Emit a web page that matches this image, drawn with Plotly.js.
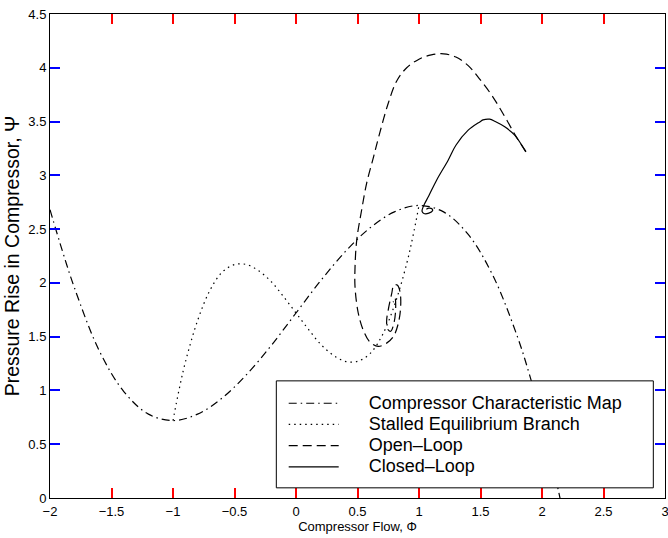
<!DOCTYPE html>
<html>
<head>
<meta charset="utf-8">
<script src="https://cdn.plot.ly/plotly-3.0.1.min.js"></script>
<style>html,body{margin:0;padding:0;background:#fff;}#chart{width:668px;height:538px;}</style>
</head>
<body>
<div id="chart"></div>
<script>
// Compressor characteristic map (dash-dot)
const mapX = [-2.0, -1.9, -1.8, -1.6, -1.4, -1.2, -1.0, -0.8, -0.6, -0.4, -0.2, 0.0, 0.2, 0.4, 0.6, 0.8, 1.0, 1.2, 1.4, 1.6, 1.8, 1.9, 2.0, 2.1, 2.15];
const mapY = [2.68, 2.30, 1.95, 1.37, 0.99, 0.78, 0.72, 0.78, 0.93, 1.15, 1.42, 1.72, 2.02, 2.29, 2.51, 2.66, 2.72, 2.66, 2.45, 2.07, 1.50, 1.14, 0.72, 0.24, -0.02];

// Stalled equilibrium branch (dotted)
const stallX = [-1.0, -0.95, -0.9, -0.8, -0.7, -0.6, -0.5, -0.4, -0.3, -0.2, -0.1, 0.0, 0.1, 0.2, 0.3, 0.4, 0.5, 0.6, 0.7, 0.8, 0.9, 0.95, 1.0];
const stallY = [0.72, 1.01, 1.26, 1.65, 1.93, 2.10, 2.17, 2.17, 2.11, 2.01, 1.87, 1.72, 1.57, 1.43, 1.33, 1.27, 1.27, 1.34, 1.51, 1.79, 2.18, 2.43, 2.72];

// Open-loop trajectory (dashed)
const openX = [1.87, 1.79, 1.70, 1.60, 1.49, 1.40, 1.30, 1.20, 1.10, 1.00, 0.90, 0.82, 0.75, 0.68, 0.63, 0.575, 0.534, 0.494, 0.48, 0.48, 0.506, 0.547, 0.601, 0.669, 0.737, 0.791, 0.831, 0.851, 0.845, 0.823, 0.796, 0.778, 0.75, 0.737, 0.745, 0.77, 0.795, 0.81, 0.805, 0.79];
const openY = [3.22, 3.36, 3.54, 3.73, 3.90, 4.02, 4.10, 4.13, 4.12, 4.08, 4.00, 3.88, 3.67, 3.39, 3.17, 2.93, 2.68, 2.40, 2.15, 1.96, 1.72, 1.56, 1.45, 1.41, 1.44, 1.50, 1.62, 1.78, 1.92, 1.98, 1.98, 1.90, 1.75, 1.65, 1.57, 1.55, 1.62, 1.75, 1.86, 1.82];

// Closed-loop trajectory (solid)
const closedX = [1.868, 1.778, 1.697, 1.62, 1.575, 1.52, 1.494, 1.40, 1.30, 1.237, 1.143, 1.08, 1.034, 1.025, 1.04, 1.08, 1.11, 1.105, 1.08, 1.06];
const closedY = [3.218, 3.374, 3.451, 3.50, 3.522, 3.515, 3.497, 3.42, 3.28, 3.141, 2.955, 2.81, 2.707, 2.665, 2.645, 2.648, 2.67, 2.69, 2.695, 2.685];

const seriesNames = ['Compressor Characteristic Map', 'Stalled Equilibrium Branch', 'Open\u2013Loop', 'Closed\u2013Loop'];
const xTicks = [-2, -1.5, -1, -0.5, 0, 0.5, 1, 1.5, 2, 2.5, 3];
const xTickText = ['\u22122', '\u22121.5', '\u22121', '\u22120.5', '0', '0.5', '1', '1.5', '2', '2.5', '3'];
const yTicks = [0, 0.5, 1, 1.5, 2, 2.5, 3, 3.5, 4, 4.5];

const W = 1.2;
const gap = '\u00A0\u00A0\u00A0\u00A0\u00A0';
const lbl = s => '<span style="font-size:18px">' + gap + s + '</span>';
const traces = [
  {x: mapX, y: mapY, name: lbl(seriesNames[0]), mode: 'lines', line: {color: '#000', width: W, dash: '8px,4px,1.5px,4px', shape: 'spline'}},
  {x: stallX, y: stallY, name: lbl(seriesNames[1]), mode: 'lines', line: {color: '#000', width: W, dash: '1.5px,4px', shape: 'spline'}},
  {x: openX, y: openY, name: lbl(seriesNames[2]), mode: 'lines', line: {color: '#000', width: W, dash: '9px,5px', shape: 'spline'}},
  {x: closedX, y: closedY, name: lbl(seriesNames[3]), mode: 'lines', line: {color: '#000', width: W, dash: 'solid', shape: 'spline'}}
];

const font = 'Liberation Sans, Arial, Helvetica, sans-serif';
const layout = {
  width: 668, height: 538,
  margin: {l: 50, r: 3, t: 14, b: 40},
  font: {family: font, color: '#000', size: 13},
  showlegend: true,
  legend: {x: 0.380, y: 0.228, xanchor: 'left', yanchor: 'top', bgcolor: 'rgba(0,0,0,0)', borderwidth: 0,
           font: {family: font, size: 14, color: '#000'}, itemwidth: 50, tracegroupgap: 0},
  shapes: [{type: 'rect', xref: 'paper', yref: 'paper', x0: 0.368, x1: 0.981, y0: 0.021, y1: 0.242,
            line: {color: '#000', width: 1}, fillcolor: '#fff', layer: 'above'}],
  xaxis: {range: [-2, 3], tickmode: 'array', tickvals: xTicks, ticktext: xTickText,
          ticks: 'inside', ticklen: 10, tickwidth: 2, tickcolor: 'red',
          showline: true, linecolor: '#000', mirror: 'ticks',
          showgrid: false, zeroline: false, ticklabelstandoff: 1, ticklabeloverflow: 'allow',
          tickfont: {size: 13, color: '#000'},
          title: {text: 'Compressor Flow, \u03A6', font: {size: 13}, standoff: 1}},
  yaxis: {range: [0, 4.5], tickmode: 'array', tickvals: yTicks,
          ticks: 'inside', ticklen: 10, tickwidth: 2, tickcolor: 'blue',
          showline: true, linecolor: '#000', mirror: 'ticks',
          showgrid: false, zeroline: false, ticklabeloverflow: 'allow',
          tickfont: {size: 13, color: '#000'},
          title: {text: 'Pressure Rise in Compressor, \u03A8', font: {size: 19.5}, standoff: 3}}
};

Plotly.newPlot('chart', traces, layout, {displayModeBar: false, staticPlot: true});
</script>
</body>
</html>
